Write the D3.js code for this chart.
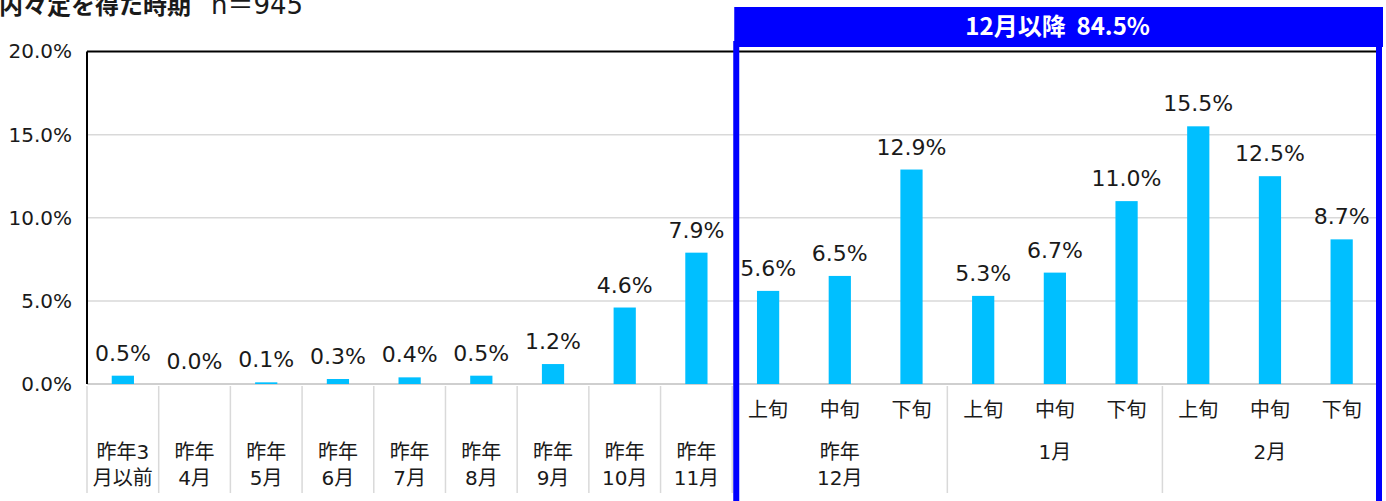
<!DOCTYPE html>
<html>
<head>
<meta charset="utf-8">
<script src="https://cdn.jsdelivr.net/npm/d3@7"></script>
<style>
  html, body { margin: 0; padding: 0; background: #fff; }
  svg { display: block; }
  text { font-family: "DejaVu Sans", "Noto Sans CJK JP", sans-serif; fill: #1a1a1a; white-space: pre; }
</style>
</head>
<body>
<svg id="chart" width="1386" height="501"></svg>
<script>
// ---- data ----
const categories = ["昨年3月以前","昨年4月","昨年5月","昨年6月","昨年7月","昨年8月","昨年9月","昨年10月","昨年11月",
  "12月上旬","12月中旬","12月下旬","1月上旬","1月中旬","1月下旬","2月上旬","2月中旬","2月下旬"];
const values = [0.5, 0.0, 0.1, 0.3, 0.4, 0.5, 1.2, 4.6, 7.9, 5.6, 6.5, 12.9, 5.3, 6.7, 11.0, 15.5, 12.5, 8.7];
const subLabels = ["","","","","","","","","","上旬","中旬","下旬","上旬","中旬","下旬","上旬","中旬","下旬"];
const groupLabels = [["昨年3","月以前"],["昨年","4月"],["昨年","5月"],["昨年","6月"],["昨年","7月"],["昨年","8月"],["昨年","9月"],["昨年","10月"],["昨年","11月"],["昨年","12月"],["1月"],["2月"]];
const groupSizes = [1,1,1,1,1,1,1,1,1,3,3,3];
const yTicks = [0, 5, 10, 15, 20];
const titleMain = "内々定を得た時期";
const titleN = "n＝945";
const highlightLabel = "12月以降  84.5%";
const highlightStart = 9; // index of first highlighted category

// ---- layout ----
const svg = d3.select("#chart");
const pLeft = 87, pRight = 1377.5, pTop = 51.5, pBottom = 384;

const x = d3.scaleBand().domain(d3.range(categories.length)).range([pLeft, pRight]).paddingInner(0).paddingOuter(0);
const y = d3.scaleLinear().domain([0, 20]).range([pBottom, pTop]);
const step = x.step();
const bw = step * 0.31;

// title
const t = svg.append("text").attr("x", -1).attr("y", 14);
t.append("tspan").text(titleMain).style("font-weight", "bold").style("font-size", "24px")
  .style("font-family", "'Noto Sans CJK JP', sans-serif");
t.append("tspan").attr("dx", 20).text(titleN).style("font-size", "26px")
  .style("font-family", "'DejaVu Sans', 'Noto Sans CJK JP', sans-serif");

// gridlines
svg.append("g").selectAll("line").data(yTicks.filter(d => d > 0 && d < 20)).join("line")
  .attr("x1", pLeft).attr("x2", pRight).attr("y1", d => y(d)).attr("y2", d => y(d))
  .attr("stroke", "#d9d9d9").attr("stroke-width", 1.5);

// y axis labels
const yAxis = d3.axisLeft(y).tickValues(yTicks).tickFormat(d => d.toFixed(1) + "%").tickSize(0).tickPadding(15);
const ga = svg.append("g").attr("transform", `translate(${pLeft},0)`).call(yAxis);
ga.select(".domain").remove();
ga.selectAll("text").style("font-size", "20px").style("font-family", "DejaVu Sans, sans-serif").attr("fill", "#1a1a1a");

// baseline
svg.append("line").attr("x1", pLeft).attr("x2", pRight).attr("y1", pBottom).attr("y2", pBottom)
  .attr("stroke", "#bfbfbf").attr("stroke-width", 1.5);

// bars
svg.append("g").selectAll("rect").data(values).join("rect")
  .attr("x", (d, i) => x(i) + (step - bw) / 2)
  .attr("width", bw)
  .attr("y", d => y(d))
  .attr("height", d => pBottom - y(d))
  .attr("fill", "#00bfff");

// value labels
svg.append("g").selectAll("text").data(values).join("text")
  .attr("x", (d, i) => x(i) + step / 2)
  .attr("y", d => y(d) - 15)
  .attr("text-anchor", "middle")
  .style("font-size", "22px")
  .text(d => d.toFixed(1) + "%");

// plot frame (left and top)
svg.append("line").attr("x1", pLeft).attr("x2", pLeft).attr("y1", pTop).attr("y2", pBottom)
  .attr("stroke", "#000").attr("stroke-width", 2);
svg.append("line").attr("x1", pLeft).attr("x2", pRight).attr("y1", pTop).attr("y2", pTop)
  .attr("stroke", "#000").attr("stroke-width", 2);

// category dividers
let boundaries = [0];
groupSizes.reduce((acc, s) => { boundaries.push(acc + s); return acc + s; }, 0);
svg.append("g").selectAll("line").data(boundaries).join("line")
  .attr("x1", d => d < categories.length ? x(d) : pRight)
  .attr("x2", d => d < categories.length ? x(d) : pRight)
  .attr("y1", pBottom + 2).attr("y2", 493)
  .attr("stroke", "#d9d9d9").attr("stroke-width", 1.5);

// sub labels
svg.append("g").selectAll("text").data(subLabels).join("text")
  .attr("x", (d, i) => x(i) + step / 2)
  .attr("y", 417)
  .attr("text-anchor", "middle")
  .style("font-size", "20px")
  .text(d => d);

// group labels (one text element per group, lines as tspans)
const gg = svg.append("g");
let startIdx = 0;
groupLabels.forEach((lines, gi) => {
  const s = groupSizes[gi];
  const cx = x(startIdx) + step * s / 2;
  const tx = gg.append("text").attr("x", cx).attr("y", 459)
    .attr("text-anchor", "middle")
    .style("font-size", "20px");
  lines.forEach((ln, li) => {
    tx.append("tspan").attr("x", cx).attr("dy", li === 0 ? 0 : 26).text(ln);
  });
  startIdx += s;
});

// highlight frame
const hx0 = x(highlightStart) + 4, hx1 = pRight + 1.5;
svg.append("rect").attr("x", hx0).attr("y", 44).attr("width", hx1 - hx0).attr("height", 480)
  .attr("fill", "none").attr("stroke", "#0000ff").attr("stroke-width", 6);
svg.append("rect").attr("x", hx0 - 2).attr("y", 7).attr("width", hx1 - hx0 + 6).attr("height", 40)
  .attr("fill", "#0000ff");
svg.append("text").attr("x", (hx0 + hx1) / 2).attr("y", 35).attr("text-anchor", "middle")
  .style("font-size", "24px").style("font-weight", "bold")
  .style("font-family", "'Noto Sans CJK JP', sans-serif")
  .style("fill", "#fff")
  .text(highlightLabel);
</script>
</body>
</html>
